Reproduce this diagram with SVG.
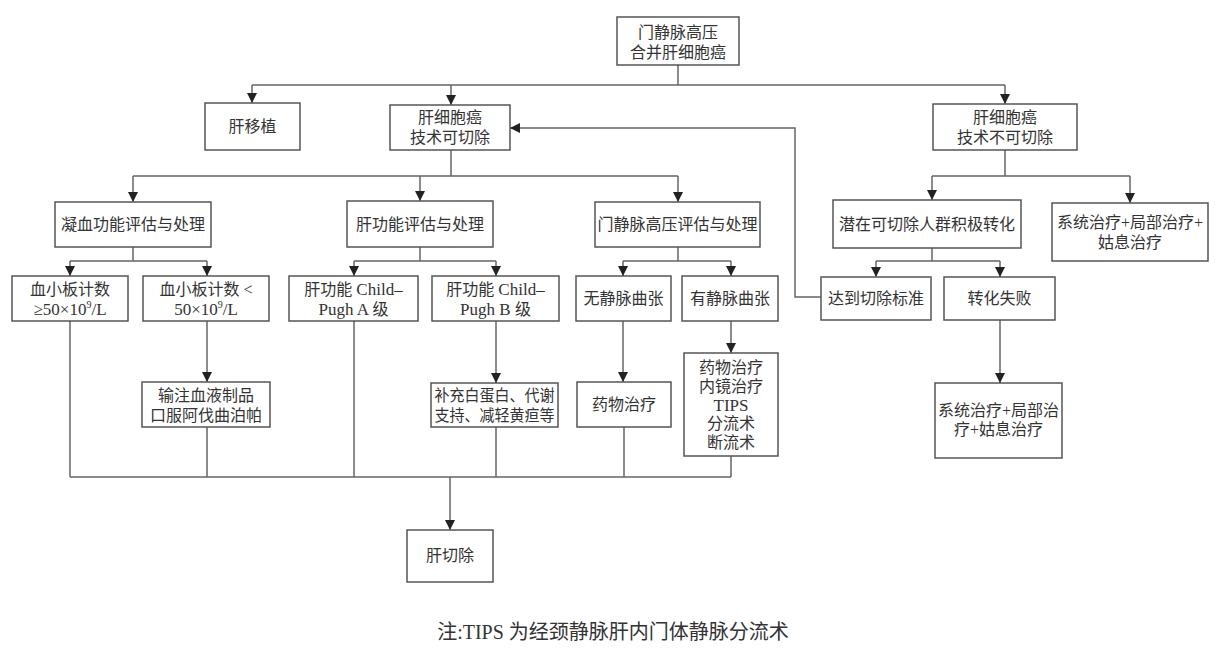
<svg xmlns="http://www.w3.org/2000/svg" width="1216" height="660" viewBox="0 0 1216 660">
<style>
.box{fill:#fff;stroke:#555;stroke-width:1.5}
.t{font-family:"Liberation Serif","Noto Sans CJK SC",serif;font-size:16px;fill:#333;text-anchor:middle}
.lat{font-size:17px}
.ln{fill:none;stroke:#666;stroke-width:1.5}
.ar{fill:none;stroke:#666;stroke-width:1.5;marker-end:url(#ah)}
.sup{font-size:10px}
</style>
<defs>
<marker id="ah" viewBox="0 0 10 10" refX="10" refY="5" markerWidth="12" markerHeight="10" markerUnits="userSpaceOnUse" orient="auto">
<path d="M0,0 L10,5 L0,10 z" fill="#222"/>
</marker>
</defs>
<rect width="1216" height="660" fill="#fff"/>
<g id="connectors">
<path class="ln" d="M678,65 V85 M252,85 H1005"/>
<path class="ar" d="M252,85 V103"/>
<path class="ar" d="M451,85 V105"/>
<path class="ar" d="M1005,85 V104"/>
<path class="ar" d="M821,297 H795 V128 H510"/>
<path class="ln" d="M451,150 V176 M133,176 H678"/>
<path class="ar" d="M133,176 V202"/>
<path class="ar" d="M420,176 V201"/>
<path class="ar" d="M678,176 V202"/>
<path class="ln" d="M1005,150 V176 M932,176 H1130"/>
<path class="ar" d="M932,176 V200"/>
<path class="ar" d="M1130,176 V203"/>
<path class="ln" d="M133,247 V261 M70,261 H207"/>
<path class="ar" d="M70,261 V276"/>
<path class="ar" d="M207,261 V276"/>
<path class="ln" d="M420,247 V261 M354,261 H496"/>
<path class="ar" d="M354,261 V276"/>
<path class="ar" d="M496,261 V276"/>
<path class="ln" d="M678,247 V261 M623,261 H731"/>
<path class="ar" d="M623,261 V276"/>
<path class="ar" d="M731,261 V276"/>
<path class="ln" d="M932,248 V261 M876,261 H1000"/>
<path class="ar" d="M876,261 V277"/>
<path class="ar" d="M1000,261 V277"/>
<path class="ar" d="M207,321 V382"/>
<path class="ar" d="M496,321 V383"/>
<path class="ar" d="M623,321 V382"/>
<path class="ar" d="M731,321 V353"/>
<path class="ar" d="M1000,320 V383"/>
<path class="ln" d="M70,321 V477 M207,427 V477 M354,321 V477 M496,427 V477 M624,427 V477 M731,456 V477 M70,477 H731"/>
<path class="ar" d="M450,477 V530"/>
</g>
<g id="n0"><rect class="box" x="617" y="17" width="122" height="48"/><text class="t" x="678" y="38">门静脉高压</text><text class="t" x="678" y="58">合并肝细胞癌</text></g>
<g id="n1"><rect class="box" x="205" y="103" width="95" height="47"/><text class="t" x="252.5" y="132">肝移植</text></g>
<g id="n2"><rect class="box" x="390" y="105" width="120" height="45"/><text class="t" x="450" y="123">肝细胞癌</text><text class="t" x="450" y="143">技术可切除</text></g>
<g id="n3"><rect class="box" x="933" y="104" width="144" height="46"/><text class="t" x="1005" y="123">肝细胞癌</text><text class="t" x="1005" y="143">技术不可切除</text></g>
<g id="n4"><rect class="box" x="55" y="202" width="156" height="45"/><text class="t" x="133" y="230">凝血功能评估与处理</text></g>
<g id="n5"><rect class="box" x="347" y="201" width="146" height="46"/><text class="t" x="420" y="230">肝功能评估与处理</text></g>
<g id="n6"><rect class="box" x="595" y="202" width="165" height="45"/><text class="t" x="677.5" y="230">门静脉高压评估与处理</text></g>
<g id="n7"><rect class="box" x="833" y="200" width="188" height="48"/><text class="t" x="927" y="230">潜在可切除人群积极转化</text></g>
<g id="n8"><rect class="box" x="1052" y="203" width="156" height="58"/><text class="t" x="1130" y="228">系统治疗+局部治疗+</text><text class="t" x="1130" y="248">姑息治疗</text></g>
<g id="n9"><rect class="box" x="12" y="276" width="116" height="45"/><text class="t" x="70" y="295">血小板计数</text><text class="t lat" x="70" y="315">≥50×10<tspan class="sup" dy="-7">9</tspan><tspan dy="7">/L</tspan></text></g>
<g id="n10"><rect class="box" x="143" y="276" width="126" height="45"/><text class="t" x="206" y="295">血小板计数 &lt;</text><text class="t lat" x="206" y="315">50×10<tspan class="sup" dy="-7">9</tspan><tspan dy="7">/L</tspan></text></g>
<g id="n11"><rect class="box" x="289" y="276" width="129" height="45"/><text class="t" x="353.5" y="295">肝功能 <tspan class="lat">Child–</tspan></text><text class="t" x="353.5" y="315"><tspan class="lat">Pugh A </tspan>级</text></g>
<g id="n12"><rect class="box" x="432" y="276" width="127" height="45"/><text class="t" x="495.5" y="295">肝功能 <tspan class="lat">Child–</tspan></text><text class="t" x="495.5" y="315"><tspan class="lat">Pugh B </tspan>级</text></g>
<g id="n13"><rect class="box" x="576" y="276" width="95" height="45"/><text class="t" x="623.5" y="304">无静脉曲张</text></g>
<g id="n14"><rect class="box" x="682" y="276" width="96" height="45"/><text class="t" x="730" y="304">有静脉曲张</text></g>
<g id="n15"><rect class="box" x="821" y="277" width="110" height="43"/><text class="t" x="876" y="304">达到切除标准</text></g>
<g id="n16"><rect class="box" x="944" y="277" width="111" height="43"/><text class="t" x="999.5" y="304">转化失败</text></g>
<g id="n17"><rect class="box" x="142" y="382" width="128" height="45"/><text class="t" x="206" y="401">输注血液制品</text><text class="t" x="206" y="421">口服阿伐曲泊帕</text></g>
<g id="n18"><rect class="box" x="431" y="383" width="127" height="44"/><text class="t" x="494.5" y="401" textLength="120" lengthAdjust="spacingAndGlyphs">补充白蛋白、代谢</text><text class="t" x="494.5" y="421" textLength="120" lengthAdjust="spacingAndGlyphs">支持、减轻黄疸等</text></g>
<g id="n19"><rect class="box" x="577" y="382" width="94" height="45"/><text class="t" x="624" y="410">药物治疗</text></g>
<g id="n20"><rect class="box" x="684" y="353" width="94" height="103"/><text class="t" x="731" y="373">药物治疗</text><text class="t" x="731" y="392">内镜治疗</text><text class="t lat" x="731" y="411">TIPS</text><text class="t" x="731" y="429">分流术</text><text class="t" x="731" y="448">断流术</text></g>
<g id="n21"><rect class="box" x="935" y="383" width="127" height="75"/><text class="t" x="998.5" y="416">系统治疗+局部治</text><text class="t" x="998.5" y="435">疗+姑息治疗</text></g>
<g id="n22"><rect class="box" x="407" y="530" width="86" height="52"/><text class="t" x="450" y="561">肝切除</text></g>
<text class="t" x="613" y="639" style="font-size:20px">注:TIPS 为经颈静脉肝内门体静脉分流术</text>
</svg>
